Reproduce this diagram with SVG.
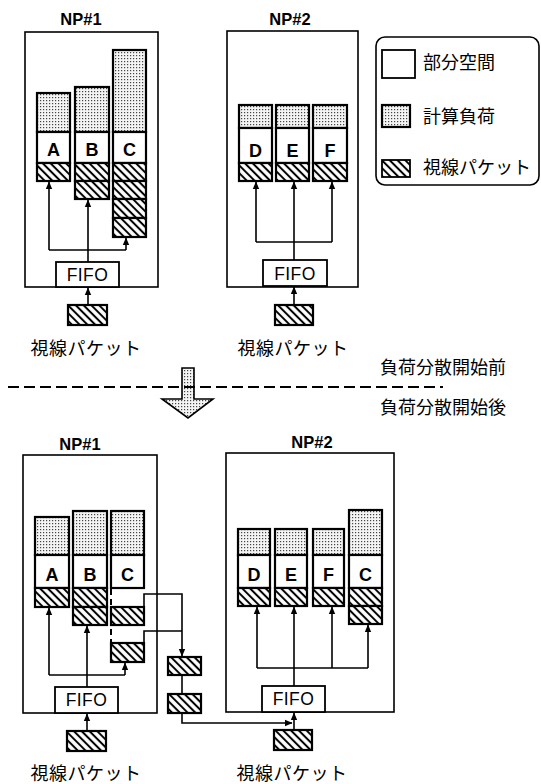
<svg xmlns="http://www.w3.org/2000/svg" width="541" height="784" viewBox="0 0 541 784">
<style>
.frame{fill:none;stroke:#000;stroke-width:1.6}
.cell{stroke:#000;stroke-width:2.2}
.load{fill:url(#dots)}
.lab{fill:#fff}
.pk{fill:url(#hatch)}
.ln{fill:none;stroke:#000;stroke-width:1.6}
.ar{fill:none;stroke:#000;stroke-width:1.6;marker-end:url(#ah)}
.np{font-family:"Liberation Sans",Arial,sans-serif;font-weight:bold;font-size:16.5px;text-anchor:middle}
.let{font-family:"Liberation Sans",Arial,sans-serif;font-weight:bold;font-size:18px;text-anchor:middle}
.fifo{font-family:"Liberation Sans",Arial,sans-serif;font-size:17.5px;text-anchor:middle;letter-spacing:0.4px}
.jp{font-family:"Noto Sans CJK JP","Noto Sans CJK SC",sans-serif;font-size:18px}
.jpc{font-family:"Noto Sans CJK JP","Noto Sans CJK SC",sans-serif;font-size:18px;text-anchor:middle}
</style>
<defs>
<pattern id="dots" width="3" height="3" patternUnits="userSpaceOnUse"><rect width="3" height="3" fill="#f4f4f4"/><rect x="1" y="1" width="1.2" height="1.2" fill="#444"/></pattern>
<pattern id="hatch" width="5.5" height="5.5" patternUnits="userSpaceOnUse" patternTransform="rotate(-45)"><rect width="5.5" height="5.5" fill="#fff"/><line x1="2.75" y1="0" x2="2.75" y2="5.5" stroke="#000" stroke-width="2"/></pattern>
<marker id="ah" markerWidth="8" markerHeight="8" refX="7" refY="4" orient="auto" markerUnits="userSpaceOnUse"><path d="M0,0.8 L7.5,4 L0,7.2 Z" fill="#000"/></marker>
</defs>
<rect width="541" height="784" fill="#fff"/>

<!-- ===== TOP ===== -->
<g id="top-np1">
<text class="np" x="81" y="25">NP#1</text>
<rect class="frame" x="25" y="32" width="133" height="255"/>
</g>
<g id="top-np1-A">
<rect class="cell load" x="37" y="93" width="33" height="39"/>
<rect class="cell lab" x="37" y="132" width="33" height="31"/>
<rect class="cell pk" x="37" y="163" width="33" height="18"/>
<text class="let" x="53.5" y="156">A</text>
</g>
<g id="top-np1-B">
<rect class="cell load" x="75" y="87" width="34" height="45"/>
<rect class="cell lab" x="75" y="132" width="34" height="31"/>
<rect class="cell pk" x="75" y="163" width="34" height="18"/>
<rect class="cell pk" x="75" y="181" width="34" height="18"/>
<text class="let" x="92" y="156">B</text>
</g>
<g id="top-np1-C">
<rect class="cell load" x="113" y="50" width="33" height="82"/>
<rect class="cell lab" x="113" y="132" width="33" height="31"/>
<rect class="cell pk" x="113" y="163" width="33" height="18"/>
<rect class="cell pk" x="113" y="181" width="33" height="18"/>
<rect class="cell pk" x="113" y="199" width="33" height="19"/>
<rect class="cell pk" x="113" y="218" width="33" height="19"/>
<text class="let" x="129.5" y="156">C</text>
</g>
<g id="top-np1-fifo">
<rect x="56" y="262" width="63" height="25" fill="#fff" stroke="#000" stroke-width="1.8"/>
<text class="fifo" x="87.5" y="281">FIFO</text>
</g>
<g id="top-np1-in">
<rect class="cell pk" x="68" y="305" width="39" height="20" stroke-width="1.8"/>
</g>
<text class="jpc" x="86" y="355" letter-spacing="0.5">視線パケット</text>

<g id="top-np2">
<text class="np" x="290" y="25">NP#2</text>
<rect class="frame" x="227" y="31" width="131" height="256"/>
</g>
<g id="top-np2-D">
<rect class="cell load" x="239" y="105" width="33" height="23"/>
<rect class="cell lab" x="239" y="128" width="33" height="35"/>
<rect class="cell pk" x="239" y="163" width="33" height="18"/>
<text class="let" x="255.5" y="157">D</text>
</g>
<g id="top-np2-E">
<rect class="cell load" x="276" y="105" width="33" height="23"/>
<rect class="cell lab" x="276" y="128" width="33" height="35"/>
<rect class="cell pk" x="276" y="163" width="33" height="18"/>
<text class="let" x="292.5" y="157">E</text>
</g>
<g id="top-np2-F">
<rect class="cell load" x="313" y="105" width="34" height="23"/>
<rect class="cell lab" x="313" y="128" width="34" height="35"/>
<rect class="cell pk" x="313" y="163" width="34" height="18"/>
<text class="let" x="330" y="157">F</text>
</g>
<g id="top-np2-fifo">
<rect x="263" y="260" width="64" height="26" fill="#fff" stroke="#000" stroke-width="1.8"/>
<text class="fifo" x="295" y="280">FIFO</text>
</g>
<g id="top-np2-in">
<rect class="cell pk" x="275" y="305" width="38" height="20" stroke-width="1.8"/>
</g>
<text class="jpc" x="293" y="355" letter-spacing="0.5">視線パケット</text>

<g id="legend">
<rect x="376" y="37" width="163" height="148" rx="9" fill="none" stroke="#000" stroke-width="1.6"/>
<rect x="382" y="50" width="33" height="28" fill="#fff" stroke="#000" stroke-width="1.8"/>
<text class="jp" x="423" y="69">部分空間</text>
<rect class="cell load" x="382" y="105" width="28" height="22"/>
<text class="jp" x="423" y="123">計算負荷</text>
<rect class="pk" x="382" y="160" width="28" height="17" stroke="#000" stroke-width="1.8"/>
<text class="jp" x="423" y="174">視線パケット</text>
</g>

<!-- ===== MIDDLE ===== -->
<g id="divider">
<polygon points="182,368 194,368 194,399 213,399 188,418 162,399 182,399" fill="url(#dots)" stroke="#000" stroke-width="1.6"/>
<line x1="8" y1="387" x2="443" y2="387" stroke="#000" stroke-width="1.8" stroke-dasharray="11,5"/>
<text class="jp" x="380" y="374">負荷分散開始前</text>
<text class="jp" x="380" y="414">負荷分散開始後</text>
</g>

<!-- ===== BOTTOM ===== -->
<g id="bot-np1">
<text class="np" x="80" y="450">NP#1</text>
<rect class="frame" x="23" y="455" width="134" height="258"/>
</g>
<g id="bot-np1-A">
<rect class="cell load" x="35" y="517" width="34" height="38"/>
<rect class="cell lab" x="35" y="555" width="34" height="33"/>
<rect class="cell pk" x="35" y="588" width="34" height="19"/>
<text class="let" x="52" y="581">A</text>
</g>
<g id="bot-np1-B">
<rect class="cell load" x="73" y="511" width="34" height="44"/>
<rect class="cell lab" x="73" y="555" width="34" height="33"/>
<rect class="cell pk" x="73" y="588" width="34" height="19"/>
<rect class="cell pk" x="73" y="607" width="34" height="18"/>
<text class="let" x="90" y="581">B</text>
</g>
<g id="bot-np1-C">
<rect class="cell load" x="111" y="511" width="33" height="44"/>
<rect class="cell lab" x="111" y="555" width="33" height="33"/>
<line x1="111" y1="589" x2="111" y2="643" stroke="#000" stroke-width="2" stroke-dasharray="6,4"/>
<rect class="cell pk" x="111" y="607" width="33" height="18"/>
<rect class="cell pk" x="111" y="643" width="33" height="19"/>
<text class="let" x="127.5" y="581">C</text>
</g>
<g id="bot-np1-fifo">
<rect x="55" y="687" width="63" height="26" fill="#fff" stroke="#000" stroke-width="1.8"/>
<text class="fifo" x="86.5" y="706">FIFO</text>
</g>
<g id="bot-np1-in">
<rect class="cell pk" x="67" y="731" width="39" height="20" stroke-width="1.8"/>
</g>
<text class="jpc" x="86" y="780" letter-spacing="0.5">視線パケット</text>

<g id="moved-1">
<rect class="cell pk" x="168" y="657" width="33" height="18" stroke-width="1.8"/>
</g>
<g id="moved-2">
<rect class="cell pk" x="168" y="694" width="33" height="19" stroke-width="1.8"/>
</g>

<g id="bot-np2">
<text class="np" x="312" y="448">NP#2</text>
<rect class="frame" x="226" y="453" width="168" height="259"/>
</g>
<g id="bot-np2-D">
<rect class="cell load" x="238" y="529" width="32" height="26"/>
<rect class="cell lab" x="238" y="555" width="32" height="33"/>
<rect class="cell pk" x="238" y="588" width="32" height="18"/>
<text class="let" x="254" y="581">D</text>
</g>
<g id="bot-np2-E">
<rect class="cell load" x="275" y="529" width="32" height="26"/>
<rect class="cell lab" x="275" y="555" width="32" height="33"/>
<rect class="cell pk" x="275" y="588" width="32" height="18"/>
<text class="let" x="291" y="581">E</text>
</g>
<g id="bot-np2-F">
<rect class="cell load" x="313" y="529" width="31" height="26"/>
<rect class="cell lab" x="313" y="555" width="31" height="33"/>
<rect class="cell pk" x="313" y="588" width="31" height="18"/>
<text class="let" x="328.5" y="581">F</text>
</g>
<g id="bot-np2-C">
<rect class="cell load" x="349" y="510" width="33" height="45"/>
<rect class="cell lab" x="349" y="555" width="33" height="33"/>
<rect class="cell pk" x="349" y="588" width="33" height="18"/>
<rect class="cell pk" x="349" y="606" width="33" height="18"/>
<text class="let" x="365.5" y="581">C</text>
</g>
<g id="bot-np2-fifo">
<rect x="262" y="686" width="63" height="26" fill="#fff" stroke="#000" stroke-width="1.8"/>
<text class="fifo" x="293.5" y="705">FIFO</text>
</g>
<g id="bot-np2-in">
<rect class="cell pk" x="274" y="730" width="38" height="20" stroke-width="1.8"/>
</g>
<text class="jpc" x="292" y="780" letter-spacing="0.5">視線パケット</text>

<!-- ===== CONNECTORS ===== -->
<g id="connectors">
<!-- top NP#1 -->
<line class="ar" x1="88" y1="305" x2="88" y2="288"/>
<line class="ar" x1="88" y1="262" x2="88" y2="200"/>
<polyline class="ln" points="126,250 49,250"/>
<line class="ar" x1="49" y1="250" x2="49" y2="182"/>
<line class="ar" x1="126" y1="250" x2="126" y2="238"/>
<!-- top NP#2 -->
<line class="ar" x1="294" y1="305" x2="294" y2="287"/>
<line class="ar" x1="294" y1="260" x2="294" y2="182"/>
<polyline class="ln" points="256,242 332,242"/>
<line class="ar" x1="256" y1="242" x2="256" y2="182"/>
<line class="ar" x1="332" y1="242" x2="332" y2="182"/>
<!-- bottom NP#1 -->
<line class="ar" x1="87" y1="731" x2="87" y2="714"/>
<line class="ar" x1="87" y1="687" x2="87" y2="626"/>
<polyline class="ln" points="49,675 125,675"/>
<line class="ar" x1="49" y1="675" x2="49" y2="608"/>
<line class="ar" x1="125" y1="675" x2="125" y2="663"/>
<!-- migration -->
<polyline class="ar" points="144,607 144,594 182,594 182,656"/>
<polyline class="ln" points="144,643 144,631 182,631"/>
<line class="ln" x1="182" y1="675" x2="182" y2="694"/>
<polyline class="ar" points="182,713 182,723 292,723"/>
<!-- bottom NP#2 -->
<line class="ar" x1="294" y1="730" x2="294" y2="713"/>
<line class="ar" x1="294" y1="686" x2="294" y2="607"/>
<polyline class="ln" points="257,668 368,668"/>
<line class="ar" x1="257" y1="668" x2="257" y2="607"/>
<line class="ar" x1="332" y1="668" x2="332" y2="607"/>
<line class="ar" x1="368" y1="668" x2="368" y2="625"/>
</g>
</svg>
